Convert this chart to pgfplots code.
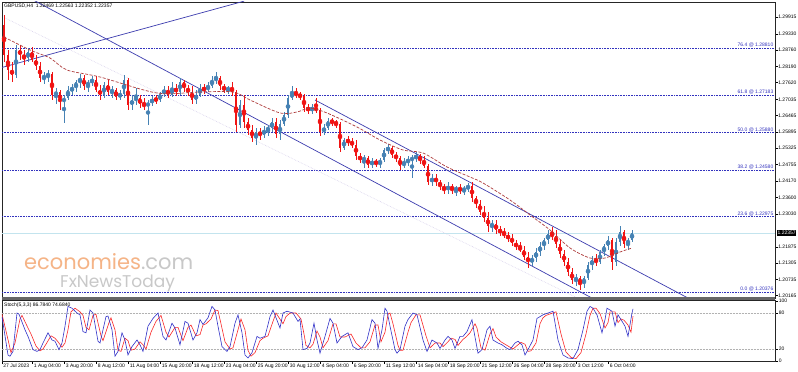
\documentclass[border=0pt]{standalone}
\usepackage{pgfplots}
\pgfplotsset{compat=1.18}
\usepackage{pgfplotstable}
\usepackage{fontspec}
\setmainfont{Liberation Sans}
\newfontfamily\logofont{Poppins}
\definecolor{upc}{RGB}{70,130,180}
\definecolor{dnc}{RGB}{240,20,20}
\definecolor{tlc}{RGB}{60,60,175}
\definecolor{fibc}{RGB}{50,50,190}
\definecolor{mac}{RGB}{175,60,60}
\definecolor{stk}{RGB}{50,50,200}
\definecolor{std}{RGB}{250,40,40}
\definecolor{logoor}{RGB}{245,180,135}
\definecolor{logogr}{RGB}{200,200,200}
\newcommand\tinyf{\fontsize{5}{6}\selectfont}

\pgfplotstableread{
x o h l c
1 1.29635 1.29985 1.28340 1.28585
3 1.28585 1.28760 1.27710 1.28060
5 1.28060 1.28340 1.27640 1.27885
7 1.27885 1.28935 1.27780 1.28760
9 1.28760 1.28935 1.28410 1.28585
11 1.28585 1.28760 1.28235 1.28480
13 1.28480 1.28830 1.28340 1.28690
15 1.28690 1.28865 1.28340 1.28410
17 1.28410 1.28585 1.28060 1.28200
19 1.28200 1.28340 1.27640 1.27780
21 1.27780 1.27990 1.27570 1.27850
23 1.27850 1.28060 1.27640 1.27920
25 1.27920 1.27990 1.27010 1.27185
27 1.27185 1.27430 1.26870 1.27290
29 1.27290 1.27360 1.26660 1.26940
31 1.26940 1.27185 1.26205 1.27080
33 1.27080 1.27500 1.27010 1.27360
35 1.27360 1.27570 1.27185 1.27430
37 1.27430 1.27710 1.27290 1.27640
39 1.27640 1.27920 1.27430 1.27780
41 1.27780 1.27885 1.27360 1.27500
43 1.27500 1.27710 1.27290 1.27640
45 1.27640 1.27850 1.27500 1.27710
47 1.27710 1.27850 1.27290 1.27360
49 1.27360 1.27535 1.27010 1.27185
51 1.27185 1.27640 1.27080 1.27535
53 1.27535 1.27710 1.27185 1.27290
55 1.27290 1.27500 1.27080 1.27360
57 1.27360 1.27430 1.27010 1.27115
59 1.27115 1.27360 1.27010 1.27220
61 1.27220 1.27885 1.27080 1.27710
63 1.27710 1.27780 1.26660 1.26835
65 1.26835 1.27185 1.26660 1.27010
67 1.27010 1.27430 1.26835 1.27080
69 1.27080 1.27185 1.26730 1.26870
71 1.26870 1.27080 1.26660 1.26800
73 1.26800 1.27010 1.26135 1.26905
75 1.26905 1.27150 1.26800 1.27045
77 1.27045 1.27185 1.26870 1.27010
79 1.27010 1.27290 1.26940 1.27220
81 1.27220 1.27500 1.27115 1.27360
83 1.27360 1.27500 1.27080 1.27185
85 1.27185 1.27640 1.27115 1.27430
87 1.27430 1.27570 1.27150 1.27290
89 1.27290 1.27780 1.27185 1.27640
91 1.27640 1.27710 1.27290 1.27430
93 1.27430 1.27535 1.27150 1.27290
95 1.27290 1.27500 1.26870 1.27010
97 1.27010 1.27360 1.26870 1.27185
99 1.27185 1.27570 1.27115 1.27430
101 1.27430 1.27570 1.27220 1.27360
103 1.27360 1.27640 1.27290 1.27500
105 1.27500 1.27850 1.27430 1.27710
107 1.27710 1.27990 1.27570 1.27780
109 1.27780 1.27850 1.27360 1.27500
111 1.27500 1.27570 1.27255 1.27360
113 1.27360 1.27500 1.27220 1.27430
115 1.27430 1.27640 1.27150 1.27290
117 1.27290 1.27360 1.25890 1.26135
119 1.26135 1.27010 1.26030 1.26835
121 1.26835 1.27185 1.26030 1.26240
123 1.26240 1.26380 1.25785 1.25960
125 1.25960 1.26135 1.25540 1.25680
127 1.25680 1.26030 1.25435 1.25890
129 1.25890 1.26030 1.25610 1.25785
131 1.25785 1.26100 1.25680 1.25960
133 1.25960 1.26135 1.25750 1.26030
135 1.26030 1.26380 1.25890 1.26240
137 1.26240 1.26380 1.25680 1.25820
139 1.25820 1.26310 1.25610 1.26170
141 1.26170 1.26590 1.26100 1.26485
143 1.26485 1.27185 1.26380 1.27080
145 1.27080 1.27500 1.27010 1.27255
147 1.27255 1.27430 1.27080 1.27185
149 1.27185 1.27290 1.27010 1.27150
151 1.27150 1.27220 1.26590 1.26730
153 1.26730 1.26870 1.26520 1.26660
155 1.26660 1.26870 1.26520 1.26730
157 1.26730 1.27080 1.26555 1.26660
159 1.26660 1.26730 1.25750 1.25890
161 1.25890 1.26170 1.25785 1.26030
163 1.26030 1.26380 1.25960 1.26275
165 1.26275 1.26380 1.26100 1.26240
167 1.26240 1.26310 1.26030 1.26170
169 1.26170 1.26240 1.25190 1.25330
171 1.25330 1.25680 1.25260 1.25610
173 1.25610 1.25750 1.25400 1.25540
175 1.25540 1.25680 1.25330 1.25435
177 1.25435 1.25610 1.24910 1.25050
179 1.25050 1.25155 1.24805 1.24910
181 1.24910 1.25085 1.24630 1.24980
183 1.24980 1.25050 1.24630 1.24735
185 1.24735 1.24980 1.24630 1.24875
187 1.24875 1.24945 1.24665 1.24770
189 1.24770 1.24980 1.24630 1.24910
191 1.24910 1.25330 1.24840 1.25260
193 1.25260 1.25470 1.25120 1.25330
195 1.25330 1.25400 1.24980 1.25085
197 1.25085 1.25190 1.24840 1.24980
199 1.24980 1.25050 1.24560 1.24700
201 1.24700 1.24980 1.24630 1.24840
203 1.24840 1.25050 1.24700 1.24910
205 1.24910 1.25085 1.24280 1.24980
207 1.24980 1.25190 1.24840 1.25050
209 1.25050 1.25120 1.24770 1.24910
211 1.24910 1.25050 1.24630 1.24700
213 1.24700 1.24770 1.24035 1.24140
215 1.24140 1.24420 1.24000 1.24280
217 1.24280 1.24420 1.24000 1.24140
219 1.24140 1.24210 1.23860 1.24000
221 1.24000 1.24070 1.23720 1.23860
223 1.23860 1.24140 1.23720 1.24000
225 1.24000 1.24070 1.23720 1.23860
227 1.23860 1.24000 1.23650 1.23930
229 1.23930 1.24070 1.23720 1.23825
231 1.23825 1.24000 1.23685 1.23930
233 1.23930 1.24105 1.23790 1.24000
235 1.24000 1.24140 1.23440 1.23580
237 1.23580 1.23650 1.23230 1.23370
239 1.23370 1.23510 1.22985 1.23090
241 1.23090 1.23300 1.22740 1.22880
243 1.22880 1.23090 1.22390 1.22600
245 1.22600 1.22810 1.22390 1.22670
247 1.22670 1.22810 1.22320 1.22460
249 1.22460 1.22600 1.22250 1.22390
251 1.22390 1.22530 1.22180 1.22250
253 1.22250 1.22390 1.22040 1.22180
255 1.22180 1.22320 1.21900 1.22005
257 1.22005 1.22110 1.21760 1.21865
259 1.21865 1.22040 1.21690 1.21760
261 1.21760 1.21900 1.21410 1.21515
263 1.21515 1.21690 1.21130 1.21340
265 1.21340 1.21585 1.21200 1.21480
267 1.21480 1.21830 1.21340 1.21690
269 1.21690 1.22040 1.21550 1.21900
271 1.21900 1.22180 1.21760 1.22110
273 1.22110 1.22460 1.21970 1.22320
275 1.22320 1.22565 1.22110 1.22250
277 1.22250 1.22460 1.21830 1.21970
279 1.21970 1.22110 1.21480 1.21620
281 1.21620 1.21760 1.21200 1.21340
283 1.21340 1.21480 1.20850 1.20990
285 1.20990 1.21130 1.20570 1.20710
287 1.20710 1.20920 1.20500 1.20780
289 1.20780 1.20850 1.20360 1.20570
291 1.20570 1.20850 1.20430 1.20780
293 1.20780 1.21340 1.20710 1.21235
295 1.21235 1.21550 1.21060 1.21410
297 1.21410 1.21620 1.21200 1.21340
299 1.21340 1.21760 1.21270 1.21690
301 1.21690 1.21970 1.21550 1.21900
303 1.21900 1.22250 1.21760 1.22110
305 1.22110 1.22180 1.21060 1.21340
307 1.21340 1.22180 1.21200 1.22040
309 1.22040 1.22600 1.21900 1.22390
311 1.22390 1.22460 1.21830 1.21970
313 1.21970 1.22180 1.21760 1.22110
315 1.22110 1.22460 1.22040 1.22357
}\candles

\begin{document}
\begin{tikzpicture}[x=1pt,y=1pt]
\path[use as bounding box, fill=white] (0,0) rectangle (798,372);
% watermark
\node[anchor=west, inner sep=0pt] at (24,110) {\logofont\fontsize{21}{21}\selectfont\textcolor{logoor}{economies}\textcolor{logogr}{.com}};
\node[anchor=west, inner sep=0pt] at (60,89) {\logofont\fontsize{17}{17}\selectfont\textcolor{logogr}{FxNewsToday}};

\begin{axis}[at={(2pt,73.5pt)}, anchor=south west, scale only axis,
  width=773pt, height=296.5pt,
  xmin=0, xmax=386.5, ymin=1.200625, ymax=1.3044,
  clip mode=individual,
  axis line style={black!85, line width=0.5pt},
  xtick=\empty,
  ytick={1.29915,1.29330,1.28760,1.28190,1.27620,1.27035,1.26465,1.25895,1.25325,1.24755,1.24170,1.23600,1.23030,1.21875,1.21305,1.20735,1.20165},
  yticklabels={1.29915,1.29330,1.28760,1.28190,1.27620,1.27035,1.26465,1.25895,1.25325,1.24755,1.24170,1.23600,1.23030,1.21875,1.21305,1.20735,1.20165},
  ytick pos=right, yticklabel pos=right,
  tick align=outside, major tick length=2.5pt,
  tick style={black, line width=0.4pt},
  yticklabel style={font=\tinyf, anchor=west, inner sep=0.6pt},
  scaled y ticks=false,
  /pgf/number format/assume math mode=true,
]
% current price line
\addplot[color={rgb,255:red,195;green,228;blue,238}, line width=0.6pt, forget plot] coordinates {(0,1.22357) (386.5,1.22357)};
% fibonacci levels
\addplot[fibc, densely dotted, line width=0.6pt, forget plot] coordinates {(0,1.28820) (386.5,1.28820)};
\addplot[fibc, densely dotted, line width=0.6pt, forget plot] coordinates {(0,1.27175) (386.5,1.27175)};
\addplot[fibc, densely dotted, line width=0.6pt, forget plot] coordinates {(0,1.25866) (386.5,1.25866)};
\addplot[fibc, densely dotted, line width=0.6pt, forget plot] coordinates {(0,1.24560) (386.5,1.24560)};
\addplot[fibc, densely dotted, line width=0.6pt, forget plot] coordinates {(0,1.22926) (386.5,1.22926)};
\addplot[fibc, densely dotted, line width=0.6pt, forget plot] coordinates {(0,1.20280) (386.5,1.20280)};
% faint line
\addplot[color={rgb,255:red,215;green,208;blue,235}, densely dotted, line width=0.6pt, forget plot] coordinates {(1.5,1.29880) (289,1.20035)};
% trend lines
\addplot[tlc, line width=0.7pt, forget plot] coordinates {(16,1.30496) (296,1.20040)};
\addplot[tlc, line width=0.7pt, forget plot] coordinates {(156.5,1.27010) (344,1.20041)};
\addplot[tlc, line width=0.7pt, forget plot] coordinates {(-1,1.28130) (121,1.30469)};
% candles: wicks
\addplot[upc, only marks, mark=none, forget plot,
  restrict expr to domain={\thisrow{c}-\thisrow{o}}{0.0001:1},
  error bars/.cd, y dir=both, y explicit, error mark=none,
  error bar style={color=upc, solid, line width=0.7pt}]
  table[x=x, y expr={(\thisrow{h}+\thisrow{l})/2}, y error expr={(\thisrow{h}-\thisrow{l})/2}] {\candles};
\addplot[dnc, only marks, mark=none, forget plot,
  restrict expr to domain={\thisrow{c}-\thisrow{o}}{-1:-0.0001},
  error bars/.cd, y dir=both, y explicit, error mark=none,
  error bar style={color=dnc, solid, line width=0.7pt}]
  table[x=x, y expr={(\thisrow{h}+\thisrow{l})/2}, y error expr={(\thisrow{h}-\thisrow{l})/2}] {\candles};
% candles: bodies
\addplot[upc, only marks, mark=none, forget plot,
  restrict expr to domain={\thisrow{c}-\thisrow{o}}{0.0001:1},
  error bars/.cd, y dir=both, y explicit, error mark=none,
  error bar style={color=upc, solid, line width=1.7pt}]
  table[x=x, y expr={(\thisrow{o}+\thisrow{c})/2}, y error expr={(\thisrow{c}-\thisrow{o})/2}] {\candles};
\addplot[dnc, only marks, mark=none, forget plot,
  restrict expr to domain={\thisrow{c}-\thisrow{o}}{-1:-0.0001},
  error bars/.cd, y dir=both, y explicit, error mark=none,
  error bar style={color=dnc, solid, line width=1.7pt}]
  table[x=x, y expr={(\thisrow{o}+\thisrow{c})/2}, y error expr={(\thisrow{o}-\thisrow{c})/2}] {\candles};
% moving average
\addplot[mac, line width=0.7pt, dash pattern=on 3pt off 1.5pt, smooth, tension=0.5, forget plot] coordinates {
(-1,1.29285) (14,1.28760) (24,1.28480) (32.5,1.28060) (49,1.27815) (77.5,1.27255) (99,1.27290) (115.5,1.27290) (124,1.27010) (139,1.26555) (147.5,1.26590) (154,1.26730) (162.5,1.26555) (177.5,1.26065) (189,1.25610) (200.5,1.25260) (210.5,1.25155) (222.5,1.24665) (234,1.24315) (240.5,1.24105) (254,1.23510) (264,1.22985) (274,1.22460) (284,1.21830) (294,1.21480) (301.5,1.21480) (309,1.21690) (315,1.21830)};
% fib labels
\node[anchor=south east, inner sep=0.5pt, text=fibc, font=\tinyf] at (axis cs:386,1.28820) {76.4 @ 1.28810};
\node[anchor=south east, inner sep=0.5pt, text=fibc, font=\tinyf] at (axis cs:386,1.27175) {61.8 @ 1.27183};
\node[anchor=south east, inner sep=0.5pt, text=fibc, font=\tinyf] at (axis cs:386,1.25866) {50.0 @ 1.25880};
\node[anchor=south east, inner sep=0.5pt, text=fibc, font=\tinyf] at (axis cs:386,1.24560) {38.2 @ 1.24580};
\node[anchor=south east, inner sep=0.5pt, text=fibc, font=\tinyf] at (axis cs:386,1.22926) {23.6 @ 1.22975};
\node[anchor=south east, inner sep=0.5pt, text=fibc, font=\tinyf] at (axis cs:386,1.20280) {0.0 @ 1.20376};
% current price box
\node[anchor=west, fill=black, text=white, inner sep=0.8pt, font=\tinyf] at (axis cs:387.3,1.22357) {1.22357};
\end{axis}

\begin{axis}[at={(2pt,11pt)}, anchor=south west, scale only axis,
  width=773pt, height=61pt,
  xmin=0, xmax=386.5, ymin=0, ymax=101.7,
  clip mode=individual,
  axis line style={black!85, line width=0.5pt},
  xtick={0,15.25,31.25,47.25,63.25,79.25,95.25,111.25,127.25,143.25,159.25,175.25,191.25,207.25,223.25,239.25,255.25,271.25,287.25,303.25},
  xticklabels={27 Jul 2023, 1 Aug 04:00, 3 Aug 20:00, 8 Aug 12:00, 11 Aug 04:00, 15 Aug 20:00, 18 Aug 12:00, 23 Aug 04:00, 25 Aug 20:00, 30 Aug 12:00, 4 Sep 04:00, 6 Sep 20:00, 11 Sep 12:00, 14 Sep 04:00, 18 Sep 20:00, 21 Sep 12:00, 26 Sep 04:00, 28 Sep 20:00, 3 Oct 12:00, 6 Oct 04:00},
  xtick pos=bottom, xticklabel pos=bottom,
  ytick={0,20,80,100}, yticklabels={0,20,80,100},
  ytick pos=right, yticklabel pos=right,
  tick align=outside, major tick length=3pt,
  tick style={black, line width=0.4pt},
  xticklabel style={font=\tinyf, anchor=north west, inner sep=0pt, xshift=1.2pt},
  yticklabel style={font=\tinyf, anchor=west, inner sep=0.6pt},
  /pgf/number format/assume math mode=true,
]
\addplot[black!30, densely dotted, line width=0.5pt, forget plot] coordinates {(0,80) (386.5,80)};
\addplot[black!30, densely dotted, line width=0.5pt, forget plot] coordinates {(0,20) (386.5,20)};
% signal line (red)
\addplot[std, line width=0.6pt, forget plot] coordinates {
(0,78) (2,50) (4.5,14) (6.5,30) (9,70) (10,76) (13,55) (14.5,45) (17,25) (19,17) (20.5,20) (22,28) (24.5,42) (26.5,38) (28,32) (30,23) (31.5,30) (33,52) (34.5,82) (36.5,88) (39,82) (40.5,76) (42,56) (43.5,52) (45.5,76) (47,78) (49.5,42) (50.5,34) (53.5,64) (54.5,72) (56.5,52) (58,18) (59.5,16) (61.5,38) (63,34) (64.5,18) (66.5,20) (69,32) (70.5,27) (72,20) (74.5,48) (77,66) (79.5,76) (82,48) (83.5,40) (86.5,56) (88,56) (90.5,34) (93,56) (94.5,60) (97,42) (99,44) (100.5,60) (102,62) (104.5,70) (106.5,85) (108,84) (109.5,62) (111.5,32) (114,20) (115.5,22) (118,52) (119.5,70) (121.5,52) (123,18) (124.5,8) (126.5,14) (129,34) (130.5,38) (133,42) (135.5,66) (137,80) (140.5,62) (142,74) (144,80) (147,80) (149.5,70) (151,45) (152,26) (154,22) (155.5,28) (157.5,50) (159,40) (160.5,22) (163,34) (165.5,62) (167,62) (169,40) (171.5,40) (174.5,45) (177,30) (179.5,22) (181.5,22) (184,32) (186.5,60) (188,60) (189.5,32) (191.5,48) (193,78) (194,80) (195.5,62) (198,26) (199,18) (200.5,18) (203,48) (204.5,64) (207,77) (209,77) (212,42) (214,22) (216.5,30) (219,30) (220.5,24) (223,32) (224.5,38) (226.5,36) (228,26) (230.5,36) (232,40) (234,47) (236.5,62) (237.5,55) (239.5,22) (241.5,18) (244,45) (245.5,54) (247,40) (249.5,32) (251.5,28) (254,23) (255.5,20) (258,27) (259.5,31) (261.5,28) (263,16) (264.5,17) (267,30) (269,62) (270.5,72) (272,76) (274.5,79) (277,82) (279.5,45) (282,15) (284.5,6) (287,4) (289.5,14) (292,45) (294,76) (295.5,88) (297,88) (299,79) (301.5,55) (303,64) (304,82) (306.5,82) (308,64) (309.5,70) (311,68) (313,60) (314.5,48) (315.5,74.7)};
% main line (blue)
\addplot[stk, line width=0.6pt, forget plot] coordinates {
(0,74) (3,10) (4,8) (5.5,16) (7.5,80) (8.5,78) (11.5,52) (13,41) (15.5,19) (17.5,16) (19,19) (20.5,30) (23,47) (25,35) (26.5,33) (28.5,19) (30,30) (31.5,58) (33,91) (35,88) (37.5,80) (39,77) (40.5,49) (42,47) (44,85) (45.5,80) (48,33) (49,30) (52,74) (53,75) (55,52) (56.5,8) (58,16) (60,47) (61.5,35) (63,10) (65,24) (67.5,35) (69,27) (70.5,16) (73,58) (75.5,71) (78,80) (80.5,41) (82,35) (85,63) (86.5,55) (89,27) (91.5,66) (93,63) (95.5,35) (97.5,47) (99,69) (100.5,61) (103,72) (105,91) (106.5,85) (108,58) (110,24) (112.5,16) (114,24) (116.5,63) (118,77) (120,47) (121.5,10) (123,5) (125,14) (127.5,41) (129,38) (131.5,41) (134,74) (135.5,85) (139,55) (140.5,80) (142.5,83) (145.5,80) (148,66) (149,70) (150.5,19) (152.5,21) (154,30) (156,63) (157.5,35) (159,13) (161.5,41) (164,71) (165.5,63) (167.5,30) (170,41) (173,47) (175.5,24) (178,19) (180,22) (182.5,35) (185,69) (186.5,63) (188,21) (190,52) (191.5,88) (192.5,83) (194,58) (196.5,19) (197.5,13) (199,19) (201.5,58) (203,69) (205.5,80) (207.5,77) (210.5,35) (212.5,16) (215,35) (217.5,30) (219,21) (221.5,35) (223,41) (225,35) (226.5,21) (229,41) (230.5,41) (232.5,49) (235,69) (236,49) (238,13) (240,19) (242.5,52) (244,58) (245.5,35) (248,30) (250,27) (252.5,21) (254,19) (256.5,30) (258,33) (260,27) (261.5,10) (263,19) (265.5,35) (267.5,71) (269,74) (270.5,77) (273,80) (275.5,83) (278,35) (280.5,10) (283,5) (285.5,4) (288,19) (290.5,52) (292.5,83) (294,91) (295.5,88) (297.5,77) (300,47) (301.5,69) (302.5,88) (305,83) (306.5,58) (308,77) (309.5,69) (311.5,58) (313,41) (315,80) (315.5,86.8)};
\end{axis}

% separator between windows
\draw[line width=2.5pt, black!60] (2,73.5) -- (775,73.5);
% titles
\node[anchor=west, inner sep=0pt, font=\tinyf] at (4,366) {GBPUSD,H4\ \ 1.22469 1.22563 1.22352 1.22357};
\node[anchor=west, inner sep=0pt, font=\tinyf] at (4,67) {Stoch(5,3,3) 86.7840 74.6840};
\end{tikzpicture}
\end{document}
